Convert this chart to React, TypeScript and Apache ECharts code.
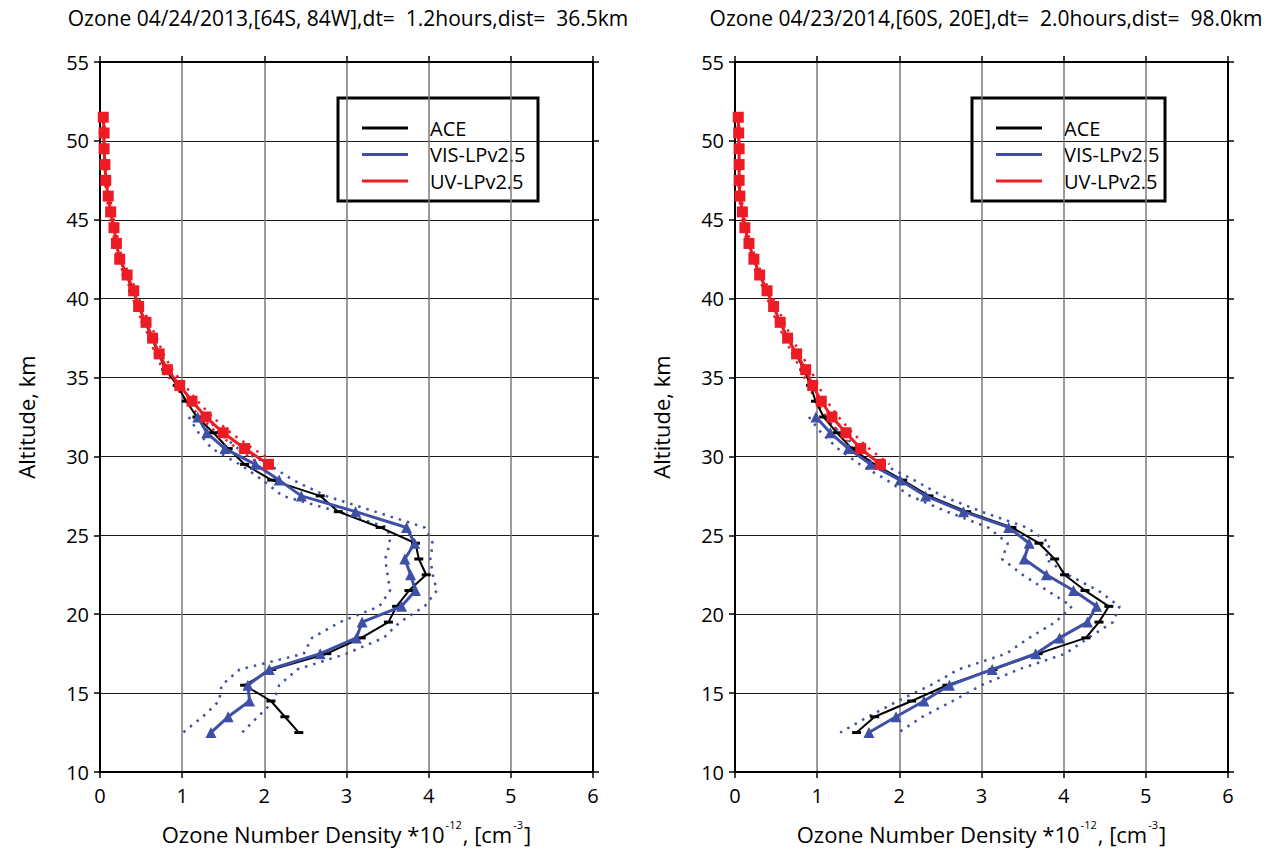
import React, { useEffect, useRef } from "react";
import * as echarts from "echarts";

// ---------- data ----------
const ALT_UV = [51.5, 50.5, 49.5, 48.5, 47.5, 46.5, 45.5, 44.5, 43.5, 42.5, 41.5, 40.5, 39.5, 38.5, 37.5, 36.5, 35.5, 34.5, 33.5, 32.5, 31.5, 30.5, 29.5];
const ALT_VIS = [32.5, 31.5, 30.5, 29.5, 28.5, 27.5, 26.5, 25.5, 24.5, 23.5, 22.5, 21.5, 20.5, 19.5, 18.5, 17.5, 16.5, 15.5, 14.5, 13.5, 12.5];
const ALT_ACE = [50.5, 49.5, 48.5, 47.5, 46.5, 45.5, 44.5, 43.5, 42.5, 41.5, 40.5, 39.5, 38.5, 37.5, 36.5, 35.5, 34.5, 33.5, 32.5, 31.5, 30.5, 29.5, 28.5, 27.5, 26.5, 25.5, 24.5, 23.5, 22.5, 21.5, 20.5, 19.5, 18.5, 17.5, 16.5, 15.5, 14.5, 13.5, 12.5];

// Left panel: 04/24/2013
const L_TITLE = "Ozone 04/24/2013,[64S, 84W],dt=  1.2hours,dist=  36.5km";
const L_UV = [0.04, 0.05, 0.05, 0.06, 0.07, 0.10, 0.13, 0.17, 0.20, 0.24, 0.33, 0.41, 0.47, 0.56, 0.64, 0.72, 0.82, 0.97, 1.12, 1.29, 1.50, 1.76, 2.05];
const L_UV_LO = [0.03, 0.04, 0.04, 0.05, 0.06, 0.08, 0.11, 0.15, 0.18, 0.21, 0.30, 0.38, 0.43, 0.52, 0.60, 0.67, 0.77, 0.91, 1.05, 1.22, 1.42, 1.67, 1.95];
const L_UV_HI = [0.05, 0.06, 0.06, 0.07, 0.09, 0.12, 0.15, 0.19, 0.23, 0.27, 0.36, 0.44, 0.51, 0.60, 0.69, 0.77, 0.88, 1.03, 1.19, 1.37, 1.59, 1.86, 2.17];
const L_VIS = [1.19, 1.30, 1.52, 1.89, 2.18, 2.45, 3.11, 3.73, 3.83, 3.71, 3.78, 3.84, 3.67, 3.19, 3.12, 2.68, 2.06, 1.80, 1.82, 1.56, 1.35];
const L_VIS_LO = [1.08, 1.20, 1.36, 1.70, 1.98, 2.22, 2.90, 3.50, 3.53, 3.47, 3.50, 3.53, 3.40, 2.92, 2.58, 2.48, 1.70, 1.48, 1.45, 1.25, 1.01];
const L_VIS_HI = [1.30, 1.45, 1.68, 2.05, 2.35, 2.75, 3.35, 3.95, 4.05, 4.02, 4.05, 4.10, 3.95, 3.65, 3.45, 3.00, 2.40, 2.18, 2.12, 1.92, 1.73];
const L_ACE = [0.04, 0.05, 0.06, 0.07, 0.10, 0.13, 0.17, 0.20, 0.24, 0.32, 0.40, 0.47, 0.55, 0.63, 0.71, 0.80, 0.94, 1.05, 1.18, 1.38, 1.56, 1.76, 2.09, 2.68, 2.90, 3.41, 3.84, 3.88, 3.97, 3.76, 3.61, 3.51, 3.18, 2.76, 2.09, 1.76, 2.08, 2.25, 2.42];

// Right panel: 04/23/2014
const R_TITLE = "Ozone 04/23/2014,[60S, 20E],dt=  2.0hours,dist=  98.0km";
const R_UV = [0.04, 0.045, 0.05, 0.05, 0.05, 0.06, 0.09, 0.12, 0.17, 0.23, 0.30, 0.39, 0.47, 0.55, 0.64, 0.75, 0.86, 0.945, 1.05, 1.18, 1.35, 1.53, 1.77];
const R_UV_LO = [0.03, 0.035, 0.04, 0.04, 0.04, 0.05, 0.07, 0.10, 0.15, 0.20, 0.27, 0.36, 0.43, 0.51, 0.60, 0.70, 0.80, 0.89, 0.99, 1.11, 1.27, 1.44, 1.67];
const R_UV_HI = [0.05, 0.055, 0.06, 0.06, 0.06, 0.07, 0.11, 0.14, 0.19, 0.26, 0.33, 0.42, 0.51, 0.60, 0.69, 0.80, 0.92, 1.01, 1.12, 1.26, 1.43, 1.63, 1.88];
const R_VIS = [0.985, 1.16, 1.38, 1.65, 2.01, 2.32, 2.78, 3.33, 3.58, 3.52, 3.79, 4.12, 4.40, 4.29, 3.95, 3.66, 3.13, 2.61, 2.30, 1.96, 1.63];
const R_VIS_LO = [0.90, 1.05, 1.25, 1.52, 1.85, 2.13, 2.58, 3.08, 3.32, 3.25, 3.50, 3.80, 4.10, 3.90, 3.58, 3.30, 2.72, 2.38, 1.98, 1.62, 1.28];
const R_VIS_HI = [1.08, 1.28, 1.50, 1.80, 2.18, 2.52, 3.00, 3.55, 3.83, 3.78, 4.05, 4.42, 4.68, 4.60, 4.30, 4.02, 3.45, 3.00, 2.65, 2.28, 1.99];
const R_ACE = [0.04, 0.05, 0.05, 0.05, 0.06, 0.09, 0.12, 0.17, 0.23, 0.30, 0.39, 0.47, 0.55, 0.64, 0.74, 0.84, 0.92, 0.98, 1.08, 1.24, 1.42, 1.70, 2.04, 2.36, 2.82, 3.37, 3.70, 3.89, 4.01, 4.26, 4.55, 4.43, 4.27, 3.69, 3.14, 2.58, 2.15, 1.70, 1.48];

const LEGEND_NAMES = ["ACE", "VIS-LPv2.5", "UV-LPv2.5"];
const X_TICKS = { min: 0, max: 6, interval: 1 };
const Y_TICKS = { min: 10, max: 55, interval: 5 };

// ---------- styles ----------
const FONT = "'Open Sans', 'Noto Sans', sans-serif";
const BLUE = "#3e50a6";
const RED = "#ed1c24";
const BLACK = "#000000";

const pair = (xs: number[], ys: number[]) => xs.map((v, i) => [v, ys[i]]);

export default function App() {
  const ref = useRef<HTMLDivElement>(null);

  useEffect(() => {
    const chart = echarts.init(ref.current!, null, { renderer: "svg" });

    const panels = [
      { left: 100, titleX: 348, title: L_TITLE, uv: L_UV, uvLo: L_UV_LO, uvHi: L_UV_HI, vis: L_VIS, visLo: L_VIS_LO, visHi: L_VIS_HI, ace: L_ACE, legend: { x: 338, w: 200 } },
      { left: 735, titleX: 986, title: R_TITLE, uv: R_UV, uvLo: R_UV_LO, uvHi: R_UV_HI, vis: R_VIS, visLo: R_VIS_LO, visHi: R_VIS_HI, ace: R_ACE, legend: { x: 972, w: 193 } },
    ];
    const GW = 493, GT = 62, GH = 710;

    const grids: any[] = [];
    const xAxes: any[] = [];
    const yAxes: any[] = [];
    const series: any[] = [];
    const graphics: any[] = [];

    const axisLine = { show: true, onZero: false, lineStyle: { color: BLACK, width: 2 } };
    const axisTick = { show: true, length: 6, inside: false, lineStyle: { color: BLACK, width: 1.5 } };

    panels.forEach((p, i) => {
      grids.push({ left: p.left, top: GT, width: GW, height: GH, containLabel: false });
      xAxes.push({
        type: "value", gridIndex: i, ...X_TICKS, position: "bottom",
        axisLine, axisTick,
        axisLabel: { fontSize: 20, color: BLACK, fontFamily: FONT, margin: 13 },
        splitLine: { show: true, lineStyle: { color: "#7a7a7a", width: 1.5 } },
        name: "{a|Ozone Number Density *10}{s|-12}{a|, [cm}{s|-3}{a|]}",
        nameLocation: "middle", nameGap: 47,
        nameTextStyle: {
          color: BLACK, fontFamily: FONT,
          rich: {
            a: { fontSize: 22, fontFamily: FONT, color: BLACK, lineHeight: 26, verticalAlign: "bottom" },
            s: { fontSize: 11, fontFamily: FONT, color: BLACK, lineHeight: 26, verticalAlign: "top", padding: [0, 1, 0, 1] },
          },
        },
      });
      xAxes.push({
        type: "value", gridIndex: i, ...X_TICKS, position: "top",
        axisLine, axisTick, axisLabel: { show: false }, splitLine: { show: false },
      });
      yAxes.push({
        type: "value", gridIndex: i, ...Y_TICKS, position: "left",
        axisLine, axisTick,
        axisLabel: { fontSize: 20, color: BLACK, fontFamily: FONT, margin: 11 },
        splitLine: { show: true, lineStyle: { color: "#1a1a1a", width: 1 } },
        name: "Altitude, km", nameLocation: "middle", nameGap: 63, nameRotate: 90,
        nameTextStyle: { fontSize: 22, color: BLACK, fontFamily: FONT },
      });
      yAxes.push({
        type: "value", gridIndex: i, ...Y_TICKS, position: "right",
        axisLine, axisTick, axisLabel: { show: false }, splitLine: { show: false },
      });

      const xi = 2 * i, yi = 2 * i;
      const dotted = (data: number[][], color: string) => ({
        type: "line", xAxisIndex: xi, yAxisIndex: yi, data, showSymbol: false, symbol: "none",
        lineStyle: { color, width: 2.5, type: [2.5, 6], cap: "butt" }, z: 2, silent: true,
      });
      series.push(dotted(pair(p.visLo, ALT_VIS), BLUE));
      series.push(dotted(pair(p.visHi, ALT_VIS), BLUE));
      series.push(dotted(pair(p.uvLo, ALT_UV), RED));
      series.push(dotted(pair(p.uvHi, ALT_UV), RED));
      series.push({
        name: LEGEND_NAMES[0], type: "line", xAxisIndex: xi, yAxisIndex: yi,
        data: pair(p.ace, ALT_ACE), symbol: "rect", symbolSize: [9, 3], showSymbol: true,
        lineStyle: { color: BLACK, width: 2 }, itemStyle: { color: BLACK }, z: 3, silent: true,
      });
      series.push({
        name: LEGEND_NAMES[1], type: "line", xAxisIndex: xi, yAxisIndex: yi,
        data: pair(p.vis, ALT_VIS), symbol: "triangle", symbolSize: 11, showSymbol: true,
        lineStyle: { color: BLUE, width: 3 }, itemStyle: { color: BLUE }, z: 4, silent: true,
      });
      series.push({
        name: LEGEND_NAMES[2], type: "line", xAxisIndex: xi, yAxisIndex: yi,
        data: pair(p.uv, ALT_UV), symbol: "rect", symbolSize: 11, showSymbol: true,
        lineStyle: { color: RED, width: 3 }, itemStyle: { color: RED }, z: 5, silent: true,
      });

      // title
      graphics.push({
        type: "text", x: p.titleX, y: 18, z: 10,
        style: { text: p.title, fill: BLACK, font: `21px ${FONT}`, textAlign: "center", textVerticalAlign: "middle" },
      });
      // legend box
      const lx = p.legend.x, lw = p.legend.w, ly = 98, lh = 103;
      const colors = [BLACK, BLUE, RED];
      const children: any[] = [
        { type: "rect", shape: { x: lx, y: ly, width: lw, height: lh }, style: { fill: "#fff", stroke: BLACK, lineWidth: 3 } },
      ];
      LEGEND_NAMES.forEach((n, k) => {
        const yy = 128 + k * 26.5;
        children.push({ type: "line", shape: { x1: lx + 24, y1: yy, x2: lx + 70, y2: yy }, style: { stroke: colors[k], lineWidth: 3 } });
        children.push({ type: "text", x: lx + 92, y: yy, style: { text: n, fill: BLACK, font: `20px ${FONT}`, textAlign: "left", textVerticalAlign: "middle" } });
      });
      graphics.push({ type: "group", z: 20, children });
    });

    chart.setOption({
      animation: false,
      backgroundColor: "#fff",
      textStyle: { fontFamily: FONT },
      grid: grids,
      xAxis: xAxes,
      yAxis: yAxes,
      series,
      graphic: graphics,
    });

    return () => chart.dispose();
  }, []);

  return (
    <div
      ref={ref}
      style={{ position: "fixed", left: 0, top: 0, width: 1272, height: 851, background: "#fff" }}
    />
  );
}
